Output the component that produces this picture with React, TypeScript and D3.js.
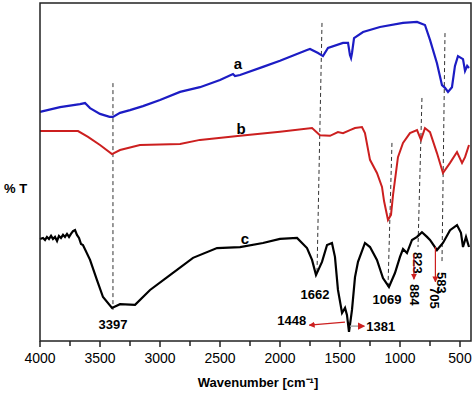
import React from 'react'
import * as d3 from 'd3'

// wavenumber (cm-1) and %T, curves are stacked (arbitrary offset)
const waveA = [4000, 3833, 3667, 3625, 3583, 3500, 3420, 3392, 3333, 3250, 3142, 3000, 2833, 2667, 2500, 2392, 2375, 2333, 2142, 2000, 1775, 1750, 1683, 1642, 1600, 1475, 1433, 1417, 1408, 1400, 1383, 1308, 1167, 975, 858, 792, 750, 692, 650, 625, 600, 567, 542, 517, 475, 458, 440, 425]
const transA = [67.8, 69.2, 70.1, 70.4, 68.9, 67.2, 66.3, 66.3, 67.5, 68.3, 69.5, 71.3, 73.7, 75.1, 77.2, 79.0, 78.4, 78.7, 81.1, 82.9, 86.1, 86.4, 85.2, 84.3, 86.7, 88.2, 88.2, 84.6, 83.7, 85.2, 89.6, 91.4, 92.9, 94.1, 94.4, 93.5, 89.1, 82.2, 75.7, 74.9, 73.7, 75.1, 81.4, 84.3, 83.4, 79.9, 81.4, 80.8]

const waveB = [4000, 3683, 3600, 3500, 3400, 3333, 3167, 2833, 2667, 2333, 2000, 1733, 1667, 1583, 1517, 1475, 1417, 1375, 1317, 1292, 1250, 1192, 1150, 1133, 1100, 1075, 1058, 1017, 975, 917, 858, 825, 792, 750, 692, 642, 583, 525, 483, 458, 425]
const transB = [62.1, 62.1, 60.4, 58.0, 55.3, 56.5, 58.0, 58.3, 59.5, 60.7, 61.9, 63.0, 60.9, 60.7, 61.8, 61.5, 62.4, 63.0, 63.3, 61.5, 53.6, 49.7, 45.6, 41.4, 35.8, 37.3, 43.2, 54.4, 58.6, 61.5, 62.4, 59.5, 63.0, 61.8, 55.6, 49.7, 52.7, 55.9, 52.7, 54.4, 58.0]

const waveC = [4000, 3975, 3958, 3942, 3925, 3908, 3892, 3875, 3858, 3842, 3825, 3808, 3792, 3775, 3758, 3742, 3725, 3708, 3692, 3675, 3658, 3642, 3583, 3525, 3475, 3400, 3333, 3208, 3083, 2917, 2725, 2525, 2333, 2142, 2000, 1858, 1775, 1733, 1700, 1650, 1608, 1567, 1542, 1517, 1483, 1458, 1442, 1425, 1400, 1375, 1350, 1292, 1250, 1192, 1142, 1092, 1042, 1000, 975, 942, 900, 858, 817, 775, 750, 733, 692, 642, 583, 525, 492, 475, 450, 425]
const transC = [30.2, 30.5, 29.9, 30.8, 30.2, 31.1, 30.2, 30.8, 29.6, 31.1, 30.5, 31.4, 30.8, 31.7, 30.8, 31.7, 32.5, 32.8, 31.4, 30.5, 28.7, 28.4, 24.0, 18.0, 13.0, 9.8, 10.9, 10.7, 15.1, 19.5, 24.6, 27.5, 27.8, 29.0, 30.2, 30.5, 27.5, 24.0, 19.5, 23.4, 28.4, 29.0, 24.9, 15.1, 8.3, 9.8, 7.7, 2.7, 9.2, 18.9, 23.4, 29.0, 27.8, 24.0, 18.6, 16.0, 20.1, 24.9, 27.2, 26.0, 29.9, 30.8, 32.2, 30.8, 29.9, 29.0, 26.9, 29.0, 32.8, 34.3, 32.0, 27.8, 30.8, 27.8]

// dashed guide lines: label, wavenumber at top / bottom, %T at top / bottom
const peakLabels = ['3397', '1662', '1069', '823', '583']
const peakWaveTop = [3392, 1650, 1067, 817, 625]
const peakWaveBot = [3392, 1692, 1100, 850, 650]
const peakTTop = [76.3, 94.1, 58.6, 71.9, 91.1]
const peakTBot = [9.2, 19.5, 16.0, 27.8, 23.4]

const xTicks = [4000, 3500, 3000, 2500, 2000, 1500, 1000, 500]
const xMinor = [3750, 3250, 2750, 2250, 1750, 1250, 750]

const W = 474
const H = 393
const left = 40
const right = 471
const top = 3
const bottom = 341

export default function App() {
  const x = d3.scaleLinear().domain([4000, 400]).range([left, left + 3600 * 0.12])
  const y = d3.scaleLinear().domain([0, 100]).range([bottom, bottom - 338])

  const line = d3.line<[number, number]>().x(d => x(d[0])).y(d => y(d[1]))
  const pts = (w: number[], t: number[]) => w.map((v, i) => [v, t[i]] as [number, number])

  const blue = '#1c1cc4'
  const red = '#cc1f1f'
  const font = 'Liberation Sans, Arial, sans-serif'

  // label helpers
  const bx = (i: number) => x(peakWaveBot[i])
  const by = (i: number) => y(peakTBot[i])

  return (
    <svg width={W} height={H} style={{ position: 'absolute', left: 0, top: 0, background: '#fff' }} fontFamily={font}>
      <defs>
        <marker id="ah" viewBox="0 0 10 10" refX="9" refY="5" markerWidth="5" markerHeight="5" orient="auto">
          <path d="M0,0 L10,5 L0,10 z" fill={red} />
        </marker>
      </defs>

      {/* dashed guides */}
      {peakLabels.map((l, i) => (
        <line key={l} x1={x(peakWaveTop[i])} y1={y(peakTTop[i])} x2={bx(i)} y2={by(i)}
          stroke="#333" strokeWidth={1} strokeDasharray="4,3" />
      ))}

      <path d={line(pts(waveA, transA)) || ''} fill="none" stroke={blue} strokeWidth={2.2} />
      <path d={line(pts(waveB, transB)) || ''} fill="none" stroke={red} strokeWidth={2} />
      <path d={line(pts(waveC, transC)) || ''} fill="none" stroke="#000" strokeWidth={2.2} />

      {/* frame */}
      <rect x={left} y={top} width={right - left} height={bottom - top} fill="none" stroke="#222" strokeWidth={1.5} />

      {/* x axis ticks */}
      {xTicks.map(t => (
        <g key={t}>
          <line x1={x(t)} x2={x(t)} y1={bottom} y2={bottom + 6} stroke="#222" strokeWidth={1.5} />
          <text x={x(t)} y={bottom + 22} textAnchor="middle" fontSize={14}>{t}</text>
        </g>
      ))}
      {xMinor.map(t => (
        <line key={t} x1={x(t)} x2={x(t)} y1={bottom} y2={bottom + 5} stroke="#222" strokeWidth={1.5} />
      ))}

      <text x={258} y={387} textAnchor="middle" fontSize={13} fontWeight="bold">Wavenumber [cm⁻¹]</text>
      <text x={4} y={193} fontSize={13} fontWeight="bold">% T</text>

      {/* series letters */}
      <text x={238} y={69} textAnchor="middle" fontSize={15} fontWeight="bold">a</text>
      <text x={241} y={134} textAnchor="middle" fontSize={15} fontWeight="bold">b</text>
      <text x={245} y={244} textAnchor="middle" fontSize={15} fontWeight="bold">c</text>

      {/* peak labels */}
      <g fontSize={13} fontWeight="bold">
        <text x={bx(0)} y={by(0) + 19} textAnchor="middle">{peakLabels[0]}</text>
        <text x={bx(1) - 2} y={by(1) + 24} textAnchor="middle">{peakLabels[1]}</text>
        <text x={bx(2) - 1} y={by(2) + 17} textAnchor="middle">{peakLabels[2]}</text>
        <text transform={`translate(${bx(3) - 5},${by(3) + 5}) rotate(90)`}>{peakLabels[3]}</text>
        <text transform={`translate(${bx(4) - 5},${by(4) + 10}) rotate(90)`}>{peakLabels[4]}</text>
        <text transform={`translate(${x(884) - 4},${y(16.9)}) rotate(90)`}>884</text>
        <text transform={`translate(${x(705) - 5},${y(16.0)}) rotate(90)`}>705</text>
        <text x={x(1448) - 40} y={y(4.7)} textAnchor="end">1448</text>
        <text x={x(1381) + 12} y={y(3.0)}>1381</text>
      </g>

      {/* arrows */}
      <line x1={x(884)} y1={y(25.7)} x2={x(884)} y2={y(18.3)} stroke={red} strokeWidth={1.2} markerEnd="url(#ah)" />
      <line x1={x(705)} y1={y(27.8)} x2={x(705)} y2={y(17.5)} stroke={red} strokeWidth={1.2} markerEnd="url(#ah)" />
      <line x1={x(1442) - 2} y1={y(5.6)} x2={x(1448) - 37} y2={y(4.7)} stroke={red} strokeWidth={1.2} markerEnd="url(#ah)" />
      <line x1={x(1425) + 1} y1={y(4.4)} x2={x(1381) + 10} y2={y(4.4)} stroke="#aaa" strokeWidth={1.5} markerEnd="url(#ah)" />
    </svg>
  )
}
